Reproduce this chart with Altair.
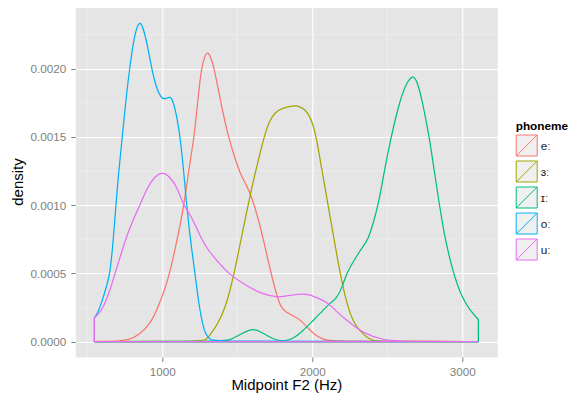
import altair as alt
import pandas as pd

phonemes = ["eː", "ɜː", "ɪː", "oː", "uː"]
colors = ["#F8766D", "#A3A500", "#00BF7D", "#00B0F6", "#E76BF3"]

x_ticks = [1000, 2000, 3000]
x_minor = [500, 1500, 2500]
y_ticks = [0.0, 0.0005, 0.0010, 0.0015, 0.0020]
y_minor = [0.00025, 0.00075, 0.00125, 0.00175, 0.00225]

e_hz = [547, 700, 773, 850, 929, 970, 1010, 1050, 1100, 1145, 1175, 1213, 1240, 1260, 1282,
        1302, 1325, 1347, 1390, 1440, 1480, 1518, 1560, 1596, 1640, 1673, 1725, 1762, 1790,
        1825, 1870, 1920, 1970, 2018, 2080, 2130, 3107]
e_den = [0, 0.000002, 0.00001, 0.00005, 0.000144, 0.00025, 0.00036, 0.0005, 0.00075, 0.0010,
         0.00125, 0.0015, 0.0018, 0.0020, 0.00209, 0.00213, 0.00208, 0.0020, 0.00175, 0.0015,
         0.00136, 0.00123, 0.00115, 0.00106, 0.0009, 0.00075, 0.0005, 0.00034, 0.00025,
         0.000215, 0.00019, 0.00016, 0.0001, 0.000046, 0.000012, 0, 0]

er_hz = [547, 1250, 1290, 1318, 1370, 1423, 1480, 1525, 1585, 1618, 1678, 1713, 1753, 1797,
         1850, 1885, 1920, 1951, 1985, 2010, 2030, 2065, 2105, 2145, 2185, 2235, 2280, 2318,
         2360, 2407, 2450, 3107]
er_den = [0, 0, 0.00001, 0.000046, 0.00013, 0.00025, 0.0005, 0.00075, 0.00107, 0.00123,
          0.0015, 0.00162, 0.00168, 0.00171, 0.001722, 0.00173, 0.00172, 0.0017, 0.00165,
          0.00157, 0.00148, 0.00125, 0.0010, 0.00075, 0.0005, 0.00025, 0.00013, 0.00008,
          0.00003, 0.000005, 0, 0]

i_hz = [547, 1400, 1450, 1500, 1550, 1607, 1660, 1710, 1760, 1818, 1870, 1930, 1996, 2074,
        2118, 2163, 2200, 2229, 2270, 2307, 2340, 2373, 2410, 2447, 2480, 2525, 2580, 2620,
        2669, 2700, 2736, 2780, 2813, 2849, 2885, 2940, 2996, 3051, 3107]
i_den = [0, 0, 0.00001, 0.00004, 0.00007, 0.000095, 0.00007, 0.000035, 0.00001, 0.000002,
         0.00002, 0.00007, 0.000144, 0.00023, 0.000283, 0.000315, 0.0004, 0.0005, 0.00058,
         0.000645, 0.0007, 0.00075, 0.00088, 0.00104, 0.00125, 0.0015, 0.00175, 0.00188,
         0.00196, 0.00191, 0.00175, 0.0015, 0.00125, 0.00099, 0.00075, 0.0005, 0.000327,
         0.000229, 0.000161]

o_hz = [547, 570, 600, 630, 651, 670, 691, 707, 733, 760, 782, 810, 835, 851, 870, 900, 929,
        960, 990, 1013, 1040, 1058, 1085, 1120, 1145, 1162, 1190, 1218, 1245, 1270, 1290,
        1320, 1360, 3107]
o_den = [0.000173, 0.00021, 0.0003, 0.00041, 0.0005, 0.0007, 0.001, 0.00122, 0.0015, 0.0018,
         0.002, 0.00222, 0.00232, 0.00234, 0.00231, 0.00218, 0.002, 0.00186, 0.00179,
         0.001775, 0.00179, 0.001795, 0.00172, 0.0015, 0.00122, 0.001, 0.00072, 0.0005,
         0.00026, 0.00012, 0.00005, 0.000012, 0, 0]

u_hz = [547, 580, 607, 650, 685, 730, 780, 851, 900, 950, 1000, 1050, 1100, 1140, 1180, 1218,
        1262, 1300, 1350, 1400, 1440, 1551, 1663, 1773, 1860, 1951, 2040, 2118, 2151, 2229,
        2340, 2473, 2600, 3107]
u_den = [0.000173, 0.00021, 0.00025, 0.00037, 0.0005, 0.00066, 0.00083, 0.001, 0.00113,
         0.00121, 0.001245, 0.00121, 0.00113, 0.001, 0.00094, 0.00086, 0.00075, 0.00068,
         0.00061, 0.00055, 0.0005, 0.000414, 0.000348, 0.00032, 0.00034, 0.000355, 0.00032,
         0.000273, 0.00023, 0.000156, 0.000059, 0.00001, 0, 0]

series_hz = [e_hz, er_hz, i_hz, o_hz, u_hz]
series_den = [e_den, er_den, i_den, o_den, u_den]

rows = []
for p, hz, den in zip(phonemes, series_hz, series_den):
    for h, d in zip(hz, den):
        rows.append({"phoneme": p, "hz": h, "density": d})
df = pd.DataFrame(rows)

FONT = "Liberation Sans, Arial, Helvetica, sans-serif"

xscale = alt.Scale(domain=[420, 3233.3], nice=False, zero=False)
yscale = alt.Scale(domain=[-0.0001136, 0.0024597], nice=False, zero=False)

xaxis = alt.Axis(values=x_ticks, format="d", title="Midpoint F2 (Hz)", grid=True,
                 gridColor="white", gridWidth=1.1, domain=False, tickColor="#7F7F7F",
                 tickSize=4.5, tickWidth=1, labelFont=FONT, labelFontSize=11.7,
                 labelColor="#7F7F7F", labelPadding=4.5, titleFont=FONT, titleFontSize=15,
                 titleFontWeight="normal", titleColor="black", titleY=32.5,
                 titleBaseline="alphabetic")
yaxis = alt.Axis(values=y_ticks, format=".4f", title="density", grid=True,
                 gridColor="white", gridWidth=1.1, domain=False, tickColor="#7F7F7F",
                 tickSize=4.5, tickWidth=1, labelFont=FONT, labelFontSize=11.7,
                 labelColor="#7F7F7F", labelPadding=5, titleFont=FONT, titleFontSize=15,
                 titleFontWeight="normal", titleColor="black", titleX=-52.5, titleY=175.5,
                 titleAngle=270, titleBaseline="alphabetic")

X = alt.X("hz:Q", scale=xscale, axis=xaxis)
Y = alt.Y("density:Q", scale=yscale, axis=yaxis, stack=None)

minor_x = alt.Chart(pd.DataFrame({"hz": x_minor})).mark_rule(
    color="#F2F2F2", strokeWidth=0.6).encode(x=X)
minor_y = alt.Chart(pd.DataFrame({"density": y_minor})).mark_rule(
    color="#F2F2F2", strokeWidth=0.6).encode(y=Y)

legend = alt.Legend(title="phoneme", orient="none", legendX=440.4, legendY=114.7,
                    symbolType="M-1,-1L1,-1L1,1L-1,1Z M-1,1L1,-1", symbolSize=441,
                    symbolStrokeWidth=1, symbolFillColor="#F0F0F0", symbolOpacity=1,
                    rowPadding=0, labelOffset=3, labelFont=FONT, labelFontSize=11.8,
                    labelColor="#1A1A1A", titleFont=FONT, titleFontSize=11.8,
                    titleFontWeight="bold", titleColor="black", titlePadding=2, padding=0)

stroke = alt.Stroke("phoneme:N", scale=alt.Scale(domain=phonemes, range=colors),
                    legend=legend, sort=phonemes)

base = alt.Chart(df).mark_area(interpolate="basis", fill="#F0F0F0", fillOpacity=0,
                               strokeWidth=1.25).encode(x=X, y=Y, stroke=stroke)

layers = [base.transform_filter(alt.datum.phoneme == p) for p in phonemes]

chart = alt.layer(minor_x, minor_y, *layers).properties(
    width=422, height=351,
    autosize=alt.AutoSizeParams(type="none"),
    padding={"left": 67.3, "top": -2, "right": 75.7, "bottom": 36},
).configure_view(fill="#E5E5E5", stroke="transparent")

chart.save("out.html", embed_options={"renderer": "svg", "actions": False})
